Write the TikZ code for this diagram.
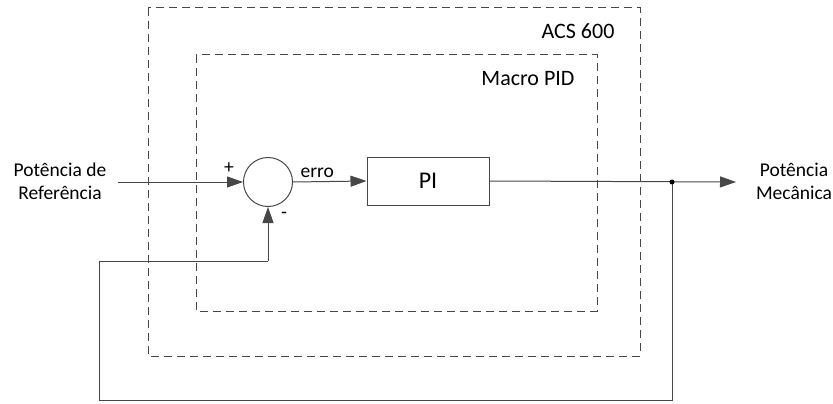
\documentclass[tikz,border=0pt]{standalone}
\usepackage{fontspec}
\setmainfont{Carlito}
\usetikzlibrary{arrows.meta}

\tikzset{
  wire/.style={draw=black!72, line width=1pt},
  arrowwire/.style={wire, -{Triangle[length=16pt,width=11pt]}},
  frame/.style={draw=black!72, line width=1pt, dash pattern=on 8pt off 5pt},
  framelabel/.style={anchor=east, font=\fontsize{22}{26}\selectfont},
}

\begin{document}
\begin{tikzpicture}[x=1pt, y=-1pt, font=\fontsize{19.5}{23}\selectfont]
\useasboundingbox (0,0) rectangle (833,404);

% Dashed frames
\draw[frame] (148,8) rectangle (640,356);
\node[framelabel] (acs) at (618,31) {ACS 600};
\draw[frame] (196,55) rectangle (597,311);
\node[framelabel] (macro) at (578,79) {Macro PID};

% Blocks
\node[circle, draw=black!72, line width=1pt, minimum size=49pt, inner sep=0pt] (sum) at (268,182) {};
\node[rectangle, draw=black!72, line width=1pt, minimum width=122pt, minimum height=48pt,
      font=\fontsize{24}{28}\selectfont] (pi) at (428,181) {PI};

% Signals
\coordinate (in) at (118,182);
\coordinate (out) at (736,182);
\coordinate (branch) at (672,182);
\coordinate (fb1) at (672,400);
\coordinate (fb2) at (99,400);
\coordinate (fb3) at (99,261);
\coordinate (fb4) at (268,261);

\node[align=center] (ref) at (60,181) {Potência de\\Referência};
\node[align=center] (mec) at (794,181) {Potência\\Mecânica};

\draw[arrowwire] (in) -- (sum.west);
\draw[arrowwire] (sum.east) -- node[above, pos=0.33] (erro) {erro} (pi.west);
\draw[arrowwire] (pi.east) -- (out);
\draw[wire] (branch) -- (fb1) -- (fb2) -- (fb3) -- (fb4);
\draw[arrowwire] (fb4) -- (sum.south);
\fill[black] (branch) circle (2.5pt);

% Signs
\node (plus) at (229,168) {+};
\node (minus) at (284,215) {-};

\end{tikzpicture}
\end{document}
